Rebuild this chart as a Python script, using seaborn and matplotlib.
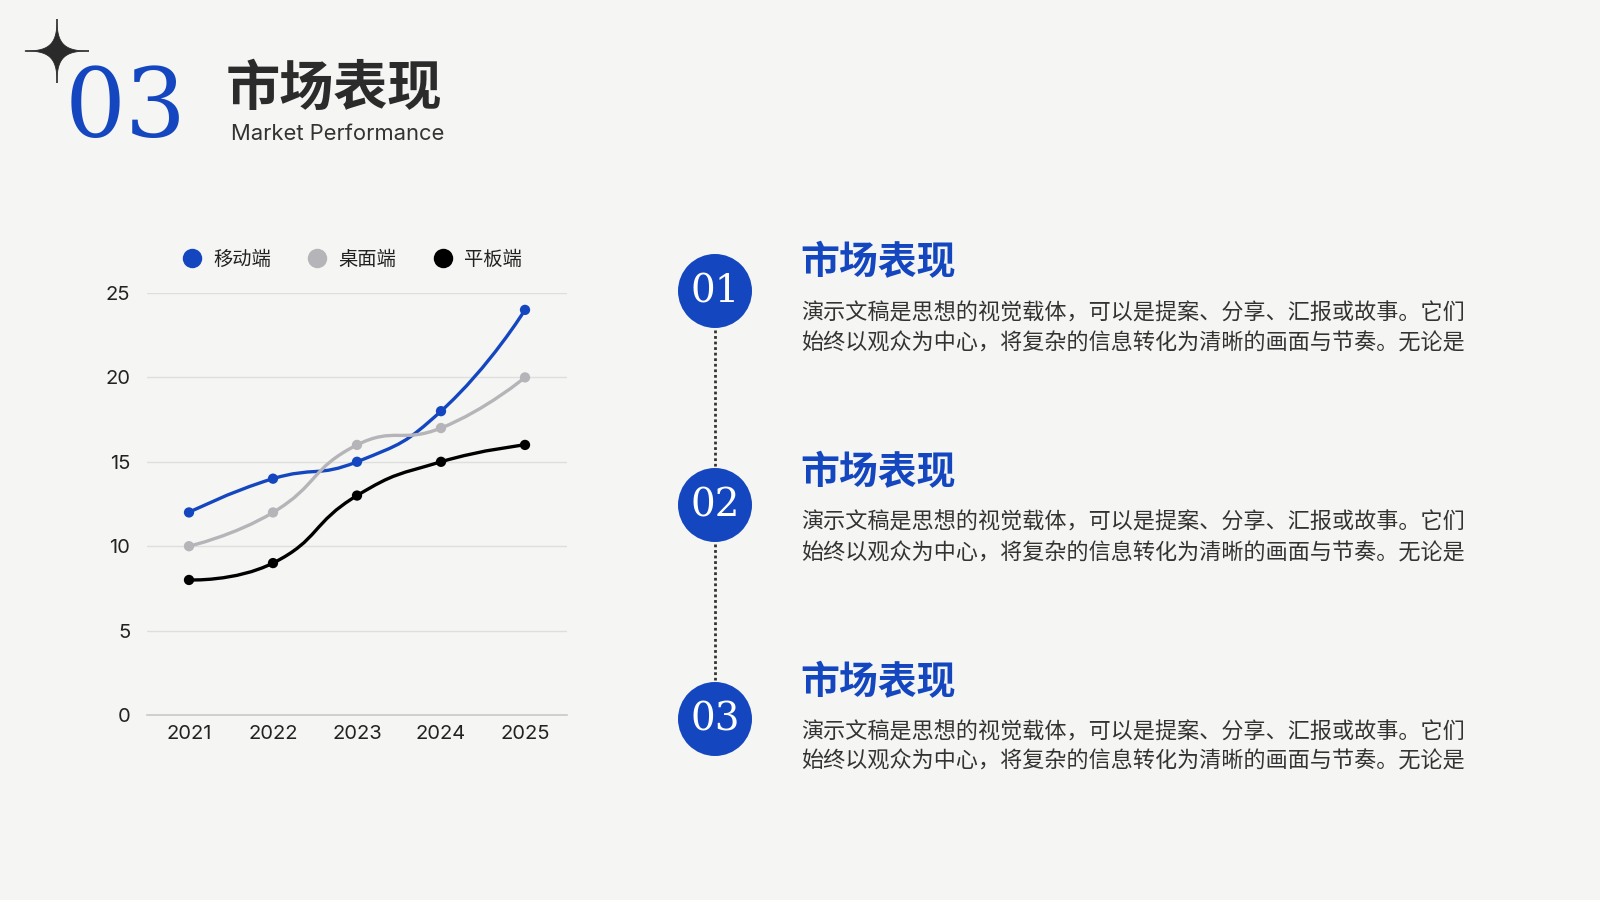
import numpy as np
import pandas as pd
import matplotlib
matplotlib.use("Agg")
import matplotlib.pyplot as plt
import seaborn as sns
from matplotlib.path import Path
from matplotlib.patches import PathPatch, Circle, Polygon
from matplotlib.lines import Line2D

# ---------------- data ----------------
years = ["2021", "2022", "2023", "2024", "2025"]
mobile = [12, 14, 15, 18, 24]
desktop = [10, 12, 16, 17, 20]
tablet = [8, 9, 13, 15, 16]
series_names = ["移动端", "桌面端", "平板端"]
y_ticks = [0, 5, 10, 15, 20, 25]

section_no = "03"
title_cn = "市场表现"
title_en = "Market Performance"
item_numbers = ["01", "02", "03"]
item_titles = ["市场表现", "市场表现", "市场表现"]
item_line1 = "演示文稿是思想的视觉载体，可以是提案、分享、汇报或故事。它们"
item_line2 = "始终以观众为中心，将复杂的信息转化为清晰的画面与节奏。无论是"

# ---------------- style ----------------
BG = "#F5F5F3"
BLUE = "#1447BF"
GRAY = "#B5B5B9"
BLACK = "#000000"
TEXT = "#2B2B2B"
palette = [BLUE, GRAY, BLACK]

sns.set_theme(style="white")
plt.rcParams['font.family'] = ['Inter', 'Noto Sans CJK SC', 'DejaVu Sans']
CJK = ['Noto Sans CJK SC', 'DejaVu Sans']

W, H = 1600, 900
fig = plt.figure(figsize=(16, 9), dpi=100, facecolor=BG)

# ---------------- chart ----------------
ax = fig.add_axes([147 / W, 1 - 715 / H, 420 / W, 422 / H])
ax.set_facecolor(BG)
ax.set_xlim(-0.5, 4.5)
ax.set_ylim(0, 25)

df = pd.DataFrame({
    "x": list(range(len(years))) * 3,
    "value": mobile + desktop + tablet,
    "series": [n for n in series_names for _ in years],
})


def smooth_curve(ax, xs, ys, smooth=0.5):
    pts = ax.transData.transform(np.column_stack([xs, ys]).astype(float))
    n = len(pts)
    cprev = pts.copy()
    cnext = pts.copy()
    for i in range(1, n - 1):
        v = pts[i + 1] - pts[i - 1]
        d0 = np.linalg.norm(pts[i] - pts[i - 1])
        d1 = np.linalg.norm(pts[i + 1] - pts[i])
        s = d0 + d1
        cprev[i] = pts[i] - v * smooth * d0 / s
        cnext[i] = pts[i] + v * smooth * d1 / s
    verts = [pts[0]]
    codes = [Path.MOVETO]
    for i in range(n - 1):
        verts += [cnext[i], cprev[i + 1], pts[i + 1]]
        codes += [Path.CURVE4] * 3
    verts = ax.transData.inverted().transform(np.array(verts))
    return Path(verts, codes)


for name, col in zip(series_names, palette):
    sub = df[df["series"] == name]
    p = smooth_curve(ax, sub["x"].values, sub["value"].values)
    ax.add_patch(PathPatch(p, facecolor="none", edgecolor=col, lw=2.4,
                           capstyle="round", joinstyle="round", zorder=2))

sns.scatterplot(data=df, x="x", y="value", hue="series", palette=palette,
                hue_order=series_names, s=55, edgecolor="none", legend=False,
                ax=ax, zorder=3)

ax.set_xlim(-0.5, 4.5)
ax.set_ylim(0, 25)
ax.set_xticks(range(len(years)))
ax.set_xticklabels(years)
ax.set_yticks(y_ticks)
ax.set_xlabel("")
ax.set_ylabel("")
ax.yaxis.grid(True, color="#DEDEDE", lw=1)
ax.xaxis.grid(False)
for s in ["top", "left", "right"]:
    ax.spines[s].set_visible(False)
ax.spines["bottom"].set_color("#C9C9C9")
ax.spines["bottom"].set_linewidth(1.2)
ax.tick_params(axis="both", length=0, labelsize=14.5, labelcolor="#222222")
ax.tick_params(axis="y", pad=12)
ax.tick_params(axis="x", pad=7)

handles = [Line2D([], [], marker="o", linestyle="", markersize=14,
                  markerfacecolor=c, markeredgecolor="none") for c in palette]
fig.legend(handles, series_names, loc="center",
           bbox_to_anchor=(352 / W, 1 - 259 / H), ncol=3, frameon=False,
           handlelength=1.0, handletextpad=0.6, columnspacing=1.9,
           prop={"family": CJK, "size": 13.9}, labelcolor="#222222")

# ---------------- overlay for decorations ----------------
oax = fig.add_axes([0, 0, 1, 1], facecolor="none")
oax.set_xlim(0, W)
oax.set_ylim(H, 0)
oax.axis("off")

# four-pointed star
R = 32
cx, cy = 57, 51
t = np.linspace(0, 2 * np.pi, 600)
nexp = 0.44
sx = np.sign(np.cos(t)) * np.abs(np.cos(t)) ** (2 / nexp)
sy = np.sign(np.sin(t)) * np.abs(np.sin(t)) ** (2 / nexp)
oax.add_patch(Polygon(np.column_stack([cx + R * sx, cy + R * sy]),
                      closed=True, facecolor="#2A2A2A", edgecolor="#2A2A2A",
                      lw=0.6, joinstyle="miter"))

oax.text(65, 137, section_no, fontsize=69, color=BLUE, family="DejaVu Serif",
         ha="left", va="baseline")
oax.text(226, 90, title_cn, fontsize=39, color=TEXT, family=CJK,
         fontweight="bold", ha="left", va="center")
oax.text(231, 140, title_en, fontsize=15.8, color="#333333", family="Inter",
         fontweight="normal", ha="left", va="baseline")

# timeline
circ_x = 715
circ_y = [291, 505, 719]
r = 37
for i in range(len(circ_y) - 1):
    oax.plot([circ_x, circ_x], [circ_y[i] + r + 2, circ_y[i + 1] - r - 2],
             color="#333333", lw=2, linestyle=(0, (1, 1)), zorder=1)
for i, cyy in enumerate(circ_y):
    oax.add_patch(Circle((circ_x, cyy), r, facecolor=BLUE, edgecolor="none", zorder=2))
    oax.text(circ_x, cyy + 1, item_numbers[i], fontsize=28, color="white",
             family="DejaVu Serif", ha="center", va="center", zorder=3)

head_y = [263, 473, 683]
body_y = [(313, 344), (522, 553), (732, 762)]
for i in range(3):
    oax.text(800, head_y[i], item_titles[i], fontsize=28, color=BLUE, family=CJK,
             fontweight="bold", ha="left", va="center")
    oax.text(801, body_y[i][0], item_line1, fontsize=15.9, color="#333333",
             family=CJK, ha="left", va="center")
    oax.text(801, body_y[i][1], item_line2, fontsize=15.9, color="#333333",
             family=CJK, ha="left", va="center")

fig.savefig("out.png", dpi=100, facecolor=BG)
